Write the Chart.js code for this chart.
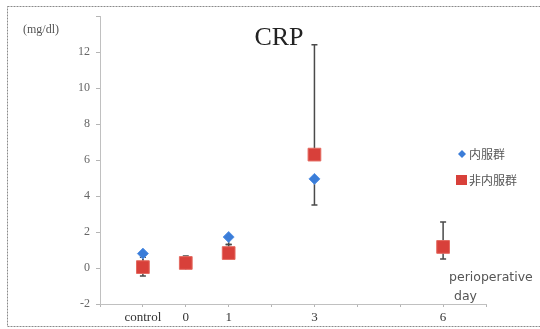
<!DOCTYPE html>
<html>
<head>
<meta charset="utf-8">
<script src="https://cdn.jsdelivr.net/npm/chart.js@4"></script>
<style>
  body { margin: 0; background: #fff; }
  #wrap { width: 540px; height: 329px; }
</style>
</head>
<body>
<div id="wrap"><canvas id="crp-chart" width="540" height="329"></canvas></div>
<script>
// data
const categories = ['control', '0', '1', '3', '6'];
const days = [-1, 0, 1, 3, 6];
const yTicks = [-2, 0, 2, 4, 6, 8, 10, 12];

const oralMean = [0.8, 0.22, 1.72, 4.95, 1.1];
const oralLow = [-0.45, 0.1, 1.3, 3.5, 0.5];     // lower error bar end

const nonOralMean = [0.05, 0.28, 0.83, 6.3, 1.17];
const nonOralHigh = [0.6, 0.67, 1.3, 12.4, 2.55]; // upper error bar end

const seriesNames = ['内服群', '非内服群'];

const toPoints = vals => days.map((d, i) => ({ x: d, y: vals[i] }));

const errorBars = {
  id: 'errorBars',
  beforeDatasetsDraw(chart) {
    const { ctx, scales: { x, y } } = chart;
    ctx.save();
    ctx.strokeStyle = '#4a4a4a';
    ctx.lineWidth = 1.5;
    const bar = (d, from, to) => {
      const px = x.getPixelForValue(d);
      const p1 = y.getPixelForValue(from);
      const p2 = y.getPixelForValue(to);
      ctx.beginPath();
      ctx.moveTo(px, p1); ctx.lineTo(px, p2);
      ctx.moveTo(px - 3, p2); ctx.lineTo(px + 3, p2);
      ctx.stroke();
    };
    days.forEach((d, i) => {
      bar(d, oralMean[i], oralLow[i]);
      bar(d, nonOralMean[i], nonOralHigh[i]);
    });
    ctx.restore();
  }
};

const decorations = {
  id: 'decorations',
  afterDraw(chart) {
    const { ctx } = chart;
    ctx.save();
    // outer frame
    ctx.strokeStyle = '#8a8a8a';
    ctx.lineWidth = 1;
    ctx.setLineDash([2, 1]);
    ctx.strokeRect(7.5, 6.5, 540, 320);
    ctx.setLineDash([]);

    ctx.fillStyle = '#222';
    ctx.font = '26px "Liberation Serif", serif';
    ctx.textAlign = 'center';
    ctx.textBaseline = 'middle';
    ctx.fillText('CRP', 279, 38);

    ctx.fillStyle = '#555';
    ctx.font = '12px "Liberation Serif", serif';
    ctx.textAlign = 'left';
    ctx.fillText('(mg/dl)', 23, 30);

    // legend
    ctx.font = '12px "Noto Sans CJK JP", sans-serif';
    ctx.fillStyle = '#3b7dd8';
    ctx.beginPath();
    ctx.moveTo(462, 150); ctx.lineTo(466, 154); ctx.lineTo(462, 158); ctx.lineTo(458, 154);
    ctx.closePath(); ctx.fill();
    ctx.fillStyle = '#d8403a';
    ctx.fillRect(456, 175, 11, 10);
    ctx.fillStyle = '#555';
    ctx.fillText(seriesNames[0], 469, 154);
    ctx.fillText(seriesNames[1], 469, 180);

    ctx.font = '12.5px "DejaVu Sans", sans-serif';
    ctx.fillText('perioperative', 449, 278);
    ctx.fillText('day', 454, 297);
    ctx.restore();
  }
};

new Chart(document.getElementById('crp-chart'), {
  type: 'scatter',
  data: {
    datasets: [
      {
        label: seriesNames[0],
        data: toPoints(oralMean),
        pointStyle: 'rectRot',
        pointRadius: 5.5,
        backgroundColor: '#3b7dd8',
        borderColor: '#5a95e6',
        borderWidth: 1,
        order: 2
      },
      {
        label: seriesNames[1],
        data: toPoints(nonOralMean),
        pointStyle: 'rect',
        pointRadius: 9,
        backgroundColor: '#d8403a',
        borderColor: '#e46a60',
        borderWidth: 1,
        order: 1
      }
    ]
  },
  options: {
    responsive: false,
    animation: false,
    layout: { padding: { left: 0, top: 16, right: 54, bottom: 0 } },
    plugins: { legend: { display: false }, tooltip: { enabled: false } },
    scales: {
      x: {
        type: 'linear',
        min: -2,
        max: 7,
        afterFit: s => { s.height = 25; },
        border: { color: '#c0c0c0', dash: [2, 1] },
        grid: { drawOnChartArea: false, tickLength: 3, color: '#b5b5b5' },
        ticks: {
          stepSize: 1,
          autoSkip: false,
          maxRotation: 0,
          padding: 3,
          color: '#333',
          font: { family: '"Liberation Serif", serif', size: 13 },
          callback: v => {
            const i = days.indexOf(v);
            return i >= 0 ? categories[i] : '';
          }
        }
      },
      y: {
        min: -2,
        max: 14,
        afterFit: s => { s.width = 100; },
        border: { color: '#c0c0c0', dash: [2, 1] },
        grid: { drawOnChartArea: false, tickLength: 4, color: '#b5b5b5' },
        ticks: {
          stepSize: 2,
          padding: 6,
          color: '#666',
          font: { family: '"Liberation Serif", serif', size: 12 },
          callback: v => yTicks.includes(v) ? String(v) : ''
        }
      }
    }
  },
  plugins: [errorBars, decorations]
});
</script>
</body>
</html>
